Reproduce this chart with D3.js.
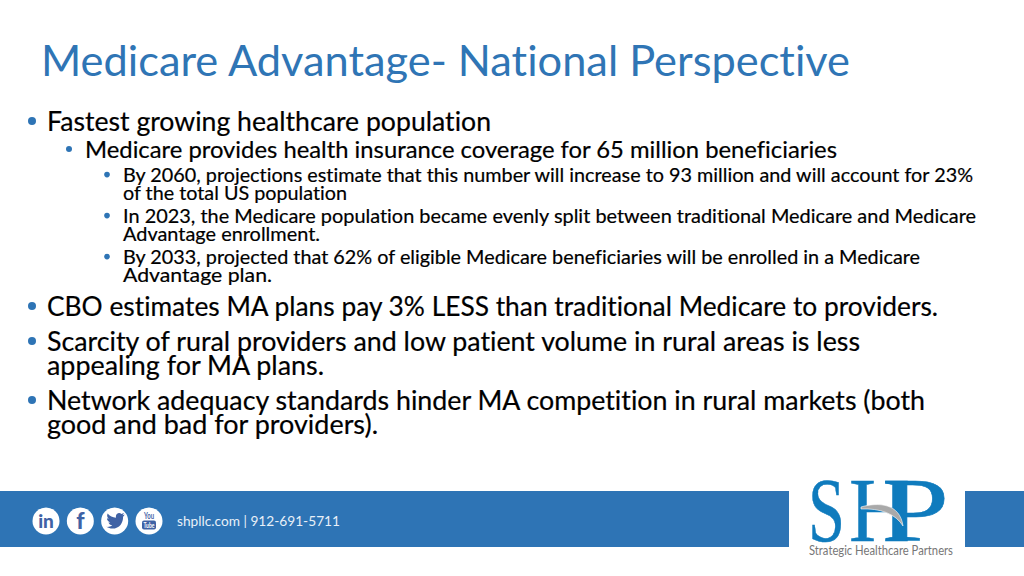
<!DOCTYPE html>
<html>
<head>
<meta charset="utf-8">
<script src="https://cdn.jsdelivr.net/npm/d3@7/dist/d3.min.js"></script>
<style>
html, body { margin: 0; padding: 0; background: #fff; overflow: hidden; }
svg { display: block; }
text { font-family: Lato, "Open Sans", sans-serif; font-variant-ligatures: none; }
</style>
</head>
<body>
<script>
var width = 1024,
    height = 576;

var titleText = "Medicare Advantage- National Perspective";

// one entry per printed line, continuation lines have no bullet
var bodyLines = [
  "Fastest growing healthcare population",
  "Medicare provides health insurance coverage for 65 million beneficiaries",
  "By 2060, projections estimate that this number will increase to 93 million and will account for 23%",
  "of the total US population",
  "In 2023, the Medicare population became evenly split between traditional Medicare and Medicare",
  "Advantage enrollment.",
  "By 2033, projected that 62% of eligible Medicare beneficiaries will be enrolled in a Medicare",
  "Advantage plan.",
  "CBO estimates MA plans pay 3% LESS than traditional Medicare to providers.",
  "Scarcity of rural providers and low patient volume in rural areas is less",
  "appealing for MA plans.",
  "Network adequacy standards hinder MA competition in rural markets (both",
  "good and bad for providers)."
];
var bodyLevels = [0, 1, 2, 2, 2, 2, 2, 2, 0, 0, 0, 0, 0];
var bodyBullets = [true, true, true, false, true, false, true, false, true, true, false, true, false];

var footerText = "shpllc.com | 912-691-5711";
var logoLetters = ["S", "H", "P"];
var logoCaption = "Strategic Healthcare Partners";
var socialIcons = ["linkedin", "facebook", "twitter", "youtube"];

// layout
var baselines = [131, 158, 182, 200, 223, 241, 264, 282, 316, 351, 375, 410, 434];
var lineEnds = [491, 837, 973, 347, 976, 320, 920, 272, 938, 860, 324, 925, 378];
var levelX = [47, 85, 123];
var levelSize = [27, 24, 20];
var bulletX = [32, 69, 107];
var bulletR = [4, 3, 2.8];

var blue = "#2E74B5",
    titleBlue = "#2F75B5",
    logoBlue = "#0F7BBD",
    iconBlue = "#3F62A5";

var svg = d3.select("body").append("svg")
    .attr("width", width)
    .attr("height", height);

// squeeze text to a fixed run, Lato is wider than the slide font
function fitText(sel, x, end) {
  sel.attr("x", x)
     .attr("textLength", end - x)
     .attr("lengthAdjust", "spacingAndGlyphs");
}

svg.append("text")
    .attr("y", 76)
    .attr("font-size", 43)
    .attr("fill", titleBlue)
    .text(titleText)
    .call(fitText, 41, 850);

var rows = svg.append("g").selectAll("g")
    .data(bodyLines)
    .enter().append("g");

rows.append("text")
    .attr("y", function(d, i) { return baselines[i]; })
    .attr("font-size", function(d, i) { return levelSize[bodyLevels[i]]; })
    .attr("fill", "#000")
    .attr("stroke", "#000")
    .attr("stroke-width", 0.2)
    .text(function(d) { return d; })
    .each(function(d, i) {
      d3.select(this).call(fitText, levelX[bodyLevels[i]], lineEnds[i]);
    });

rows.filter(function(d, i) { return bodyBullets[i]; })
  .append("circle")
    .attr("cx", function(d) { return bulletX[bodyLevels[bodyLines.indexOf(d)]]; })
    .attr("cy", function(d) {
      var i = bodyLines.indexOf(d);
      return baselines[i] - levelSize[bodyLevels[i]] * 0.37;
    })
    .attr("r", function(d) { return bulletR[bodyLevels[bodyLines.indexOf(d)]]; })
    .attr("fill", blue);

// footer band
svg.append("rect").attr("x", 0).attr("y", 491).attr("width", 789).attr("height", 56).attr("fill", blue);
svg.append("rect").attr("x", 965).attr("y", 491).attr("width", 59).attr("height", 56).attr("fill", blue);

svg.append("text")
    .attr("y", 526)
    .attr("font-size", 13.5)
    .attr("fill", "#E8F0F8")
    .text(footerText)
    .call(fitText, 177, 340);

var iconX = d3.scalePoint().domain(socialIcons).range([46, 149]);

var icons = svg.append("g").selectAll("g")
    .data(socialIcons)
    .enter().append("g")
    .attr("transform", function(d) { return "translate(" + iconX(d) + ",521)"; });

icons.append("circle").attr("r", 13.5).attr("fill", "#fff");

icons.filter(function(d) { return d == "linkedin"; }).append("text")
    .attr("text-anchor", "middle").attr("y", 6.5)
    .attr("font-size", 19).attr("font-weight", 900).attr("fill", iconBlue)
    .text("in");

icons.filter(function(d) { return d == "facebook"; }).append("text")
    .attr("text-anchor", "middle").attr("y", 8)
    .attr("font-size", 23).attr("font-weight", 900).attr("fill", iconBlue)
    .text("f");

icons.filter(function(d) { return d == "twitter"; }).append("path")
    .attr("fill", iconBlue)
    .attr("d", "M10,-6.5 C9,-6 8.4,-5.8 7.6,-5.7 C8.5,-6.3 9,-7 9.3,-8 C8.5,-7.5 7.6,-7.2 6.7,-7 C5,-8.8 1.2,-8 1.2,-4.2 C1.2,-3.8 1.2,-3.6 1.3,-3.3 C-2,-3.5 -5,-5 -7,-7.5 C-8,-5.7 -7.6,-3.4 -5.8,-2.2 C-6.5,-2.2 -7.1,-2.4 -7.7,-2.7 C-7.7,-0.7 -6.3,0.9 -4.4,1.3 C-5,1.5 -5.6,1.5 -6.2,1.4 C-5.7,3 -4.2,4.1 -2.4,4.2 C-4,5.5 -6.2,6.1 -8.2,5.8 C-6.4,7 -4.4,7.6 -2.3,7.6 C5,7.6 8.6,1.6 8.4,-4.3 C9,-4.8 9.6,-5.6 10,-6.5 Z");

var yt = icons.filter(function(d) { return d == "youtube"; });
yt.append("text")
    .attr("y", -2.5)
    .attr("font-size", 9.5).attr("font-weight", 700).attr("fill", iconBlue)
    .text("You")
    .call(fitText, -5, 5);
yt.append("rect")
    .attr("x", -7).attr("y", -0.5).attr("width", 14).attr("height", 9).attr("rx", 2)
    .attr("fill", iconBlue);
yt.append("text")
    .attr("y", 6.5)
    .attr("font-size", 7.5).attr("font-weight", 700).attr("fill", "#fff")
    .text("Tube")
    .call(fitText, -5.5, 5.5);

// logo, the H and P share a stem
var logoStart = [808, 849, 882],
    logoEnd = [845, 910, 949];
var logo = svg.append("g");
logo.selectAll("text")
    .data(logoLetters)
    .enter().append("text")
    .attr("y", 541)
    .attr("font-size", 91)
    .attr("fill", logoBlue)
    .attr("stroke", logoBlue)
    .attr("stroke-width", 0.5)
    .style("font-family", "'Liberation Serif', serif")
    .text(function(d) { return d; })
    .each(function(d, i) {
      d3.select(this).call(fitText, logoStart[i], logoEnd[i]);
    });

logo.append("path")
    .attr("fill", "#A9A9A9")
    .attr("stroke", "#fff")
    .attr("stroke-width", 0.6)
    .attr("d", "M861,507 C878,502 900,503 903,526 C896,514 880,508 861,509 Z");

svg.append("text")
    .attr("y", 555)
    .attr("font-size", 12.5)
    .attr("fill", "#777")
    .text(logoCaption)
    .call(fitText, 809, 953);
</script>
</body>
</html>
